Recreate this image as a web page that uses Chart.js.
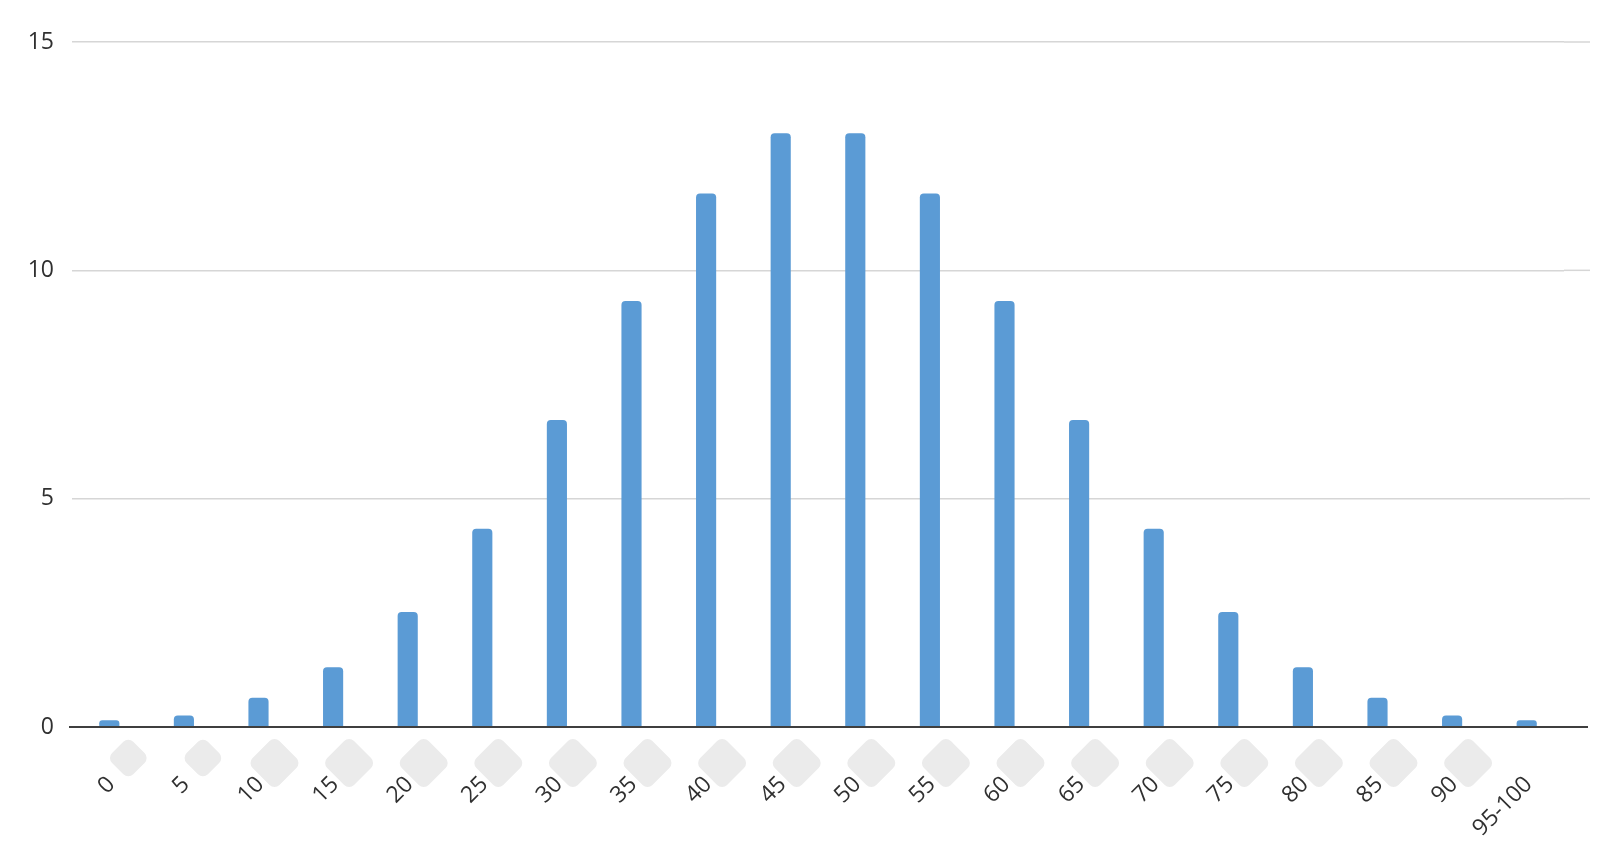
<!DOCTYPE html>
<html>
<head>
<meta charset="utf-8">
<script src="https://cdn.jsdelivr.net/npm/chart.js@4/dist/chart.umd.min.js"></script>
<style>
    html, body { margin: 0; padding: 0; background: #ffffff; }
    #wrap { width: 1613px; height: 843px; }
</style>
</head>
<body>
<div id="wrap"><canvas id="myChart" width="1613" height="843"></canvas></div>
<script>
//! DATA
const categories = ['0', '5', '10', '15', '20', '25', '30', '35', '40', '45', '50', '55', '60', '65', '70', '75', '80', '85', '90', '95-100'];
const counts = [0.15, 0.25, 0.64, 1.31, 2.52, 4.34, 6.72, 9.33, 11.68, 13.0, 13.0, 11.68, 9.33, 6.72, 4.34, 2.52, 1.31, 0.64, 0.25, 0.15];
const yTicks = [0, 5, 10, 15];

const textColor = '#303030';
const gridColor = '#d6d6d6';
const axisColor = '#3f3f3f';

//* light grey diamonds sitting behind the x labels (all but the last one)
const diamondPlugin = {
    id: 'diamonds',
    beforeDraw(chart) {
        const ctx = chart.ctx;
        const xs = chart.scales.x;
        const base = chart.chartArea.bottom;
        ctx.save();
        ctx.fillStyle = '#ebebeb';
        for (let i = 0; i < categories.length - 1; i++) {
            const wide = categories[i].length > 1;
            const cx = xs.getPixelForTick(i) + (wide ? 16 : 19);
            const cy = base + (wide ? 36 : 31);
            const side = wide ? 38 : 30;
            ctx.save();
            ctx.translate(cx, cy);
            ctx.rotate(Math.PI / 4);
            ctx.beginPath();
            if (ctx.roundRect) {
                ctx.roundRect(-side / 2, -side / 2, side, side, 7);
            } else {
                ctx.rect(-side / 2, -side / 2, side, side);
            }
            ctx.fill();
            ctx.restore();
        }
        ctx.restore();
    }
};

//* grid lines and the baseline run a bit past the last category
const extendPlugin = {
    id: 'extendLines',
    afterDatasetsDraw(chart) {
        const ctx = chart.ctx;
        const area = chart.chartArea;
        const ys = chart.scales.y;
        ctx.save();
        ctx.strokeStyle = gridColor;
        ctx.lineWidth = 1.5;
        yTicks.slice(1).forEach(v => {
            const y = ys.getPixelForValue(v);
            ctx.beginPath();
            ctx.moveTo(area.right, y);
            ctx.lineTo(area.right + 26, y);
            ctx.stroke();
        });
        ctx.strokeStyle = axisColor;
        ctx.lineWidth = 2;
        ctx.beginPath();
        ctx.moveTo(area.left - 3, area.bottom);
        ctx.lineTo(area.right + 24, area.bottom);
        ctx.stroke();
        ctx.restore();
    }
};

const data = {
    labels: categories,
    datasets: [{
        label: 'count',
        data: counts,
        backgroundColor: '#5b9bd5',
        borderWidth: 0,
        borderRadius: 4,
        barPercentage: 0.27,
        categoryPercentage: 1
    }]
};

const config = {
    type: 'bar',
    data,
    options: {
        responsive: false,
        animation: false,
        layout: {
            padding: { top: 42, right: 49, bottom: 0, left: 0 }
        },
        plugins: {
            legend: { display: false },
            tooltip: { enabled: false }
        },
        scales: {
            x: {
                grid: { display: false, drawTicks: false },
                border: { display: true, color: axisColor, width: 2 },
                ticks: {
                    color: textColor,
                    font: { family: '"Open Sans", sans-serif', size: 23 },
                    minRotation: 45,
                    maxRotation: 45,
                    autoSkip: false,
                    labelOffset: 2,
                    padding: 44
                },
                afterFit: s => { s.height = 116; }
            },
            y: {
                min: 0,
                max: 15,
                grid: { color: gridColor, lineWidth: 1.5, drawTicks: false },
                border: { display: false },
                ticks: {
                    stepSize: 5,
                    color: textColor,
                    font: { family: '"Open Sans", sans-serif', size: 23 },
                    padding: 18
                },
                afterFit: s => { s.width = 72; }
            }
        }
    },
    plugins: [diamondPlugin, extendPlugin]
};

//! CREATE CHART
const myChart = new Chart(document.getElementById('myChart'), config);
</script>
</body>
</html>
